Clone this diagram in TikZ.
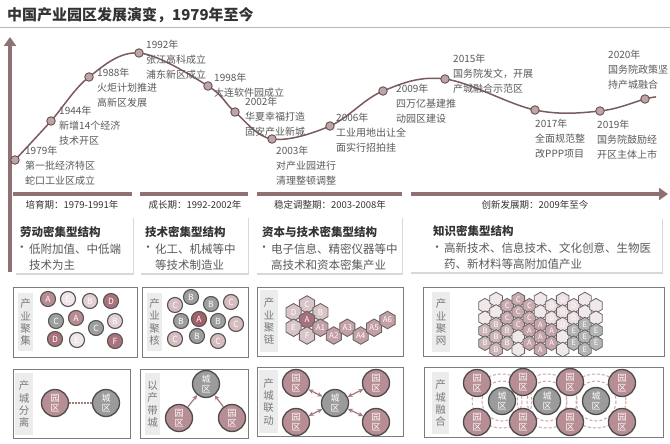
\documentclass[tikz,border=0pt]{standalone}
\usepackage{fontspec}
\setmainfont{Noto Sans CJK SC}
\usetikzlibrary{shapes.geometric,arrows.meta,shadows}
\definecolor{barc}{HTML}{8F7073}
\definecolor{curvec}{HTML}{7B5B5F}
\definecolor{dotf}{HTML}{BDA5A8}
\definecolor{dotd}{HTML}{6A5154}
\definecolor{txtc}{HTML}{5A5A5A}
\definecolor{darkc}{HTML}{333333}
\definecolor{framec}{HTML}{7C7C7C}
\definecolor{sidebg}{HTML}{ECECEC}
\definecolor{sidetx}{HTML}{7A7A7A}
\definecolor{balld}{HTML}{555555}
\definecolor{pkD}{HTML}{AA737C}
\definecolor{pkA}{HTML}{B98A91}
\definecolor{pkL}{HTML}{E3CED1}
\definecolor{pkV}{HTML}{F0E5E7}
\definecolor{grC}{HTML}{9E9E9E}
\definecolor{pkM}{HTML}{D6BBBF}
\definecolor{redA}{HTML}{A3606A}
\definecolor{hxL}{HTML}{D9C5C8}
\definecolor{hxA}{HTML}{A8707A}
\definecolor{hxM}{HTML}{C49FA5}
\definecolor{g0}{HTML}{F1E8EA}
\definecolor{gB}{HTML}{CDB6B7}
\definecolor{gC}{HTML}{C9AAAF}
\definecolor{gA}{HTML}{C5A5AA}
\definecolor{gD}{HTML}{EDDFE2}
\definecolor{gE}{HTML}{B4B4B4}
\definecolor{parkc}{HTML}{B88E95}
\definecolor{cityc}{HTML}{9B9B9B}
\definecolor{arrc}{HTML}{A6777F}
\definecolor{dashc}{HTML}{CFA3AA}
\begin{document}
\begin{tikzpicture}[x=1pt,y=-1pt,
  tl/.style={anchor=north west,inner sep=0pt,align=left,text=txtc,font=\fontsize{10}{14.7}\selectfont},
  dot/.style={circle,fill=dotf,draw=dotd,line width=0.9pt,minimum size=8.5pt,inner sep=0pt},
  bar/.style={draw=barc,line width=3.6pt},
  period/.style={inner sep=0pt,text=darkc,font=\fontsize{9.5}{11}\selectfont},
  card/.style={anchor=north west,fill=white,draw=none,inner sep=0pt,drop shadow={shadow xshift=0.8pt,shadow yshift=-2pt,opacity=0.3}},
  ctitle/.style={anchor=west,inner sep=0pt,text=darkc,font=\fontsize{11.5}{14}\selectfont\bfseries},
  cbullet/.style={anchor=center,inner sep=0pt,text=txtc,font=\fontsize{11.5}{16}\selectfont},
  ctext/.style={anchor=north west,inner sep=0pt,align=left,text=txtc,font=\fontsize{11.5}{16}\selectfont},
  frm/.style={anchor=north west,draw=framec,line width=1.1pt,fill=white,inner sep=0pt},
  sidebox/.style={anchor=north west,fill=sidebg,draw=none,inner sep=0pt},
  sidetext/.style={inner sep=0pt,align=center,text=sidetx,font=\fontsize{10.5}{12.4}\selectfont},
  ball/.style={circle,draw=balld,line width=1.1pt,minimum size=15pt,inner sep=0pt,text=white,font=\fontsize{8.5}{9}\selectfont},
  hexc/.style={regular polygon,regular polygon sides=6,shape border rotate=30,minimum size=17.5pt,inner sep=0pt,draw=balld!90,line width=0.9pt,text=white,font=\fontsize{8}{9}\selectfont},
  hexg/.style={regular polygon,regular polygon sides=6,shape border rotate=30,minimum size=14.6pt,inner sep=0pt,draw=balld!90,line width=0.8pt,text=white,font=\fontsize{7.5}{8}\selectfont},
  big/.style={circle,draw=black!70,line width=1.3pt,minimum size=27pt,inner sep=0pt,align=center,text=white,font=\fontsize{9}{10.5}\selectfont},
  park/.style={big,fill=parkc},
  city/.style={big,fill=cityc},
  arr/.style={draw=arrc,line width=1.2pt,-{Stealth[length=5pt,width=4.5pt]}},
  darr/.style={draw=arrc,line width=1.2pt,{Stealth[length=5pt,width=4.5pt]}-{Stealth[length=5pt,width=4.5pt]}},
  dashring/.style={draw=dashc,line width=1pt,dash pattern=on 3pt off 2pt},
  dotline/.style={draw=arrc,line width=1.3pt,dash pattern=on 1.5pt off 1.5pt},
]
\useasboundingbox (0,0) rectangle (670,444);
\fill[white] (0,0) rectangle (670,444);

% title
\node[anchor=west,inner sep=0pt,text=darkc,font=\fontsize{15}{18}\selectfont\bfseries] (title) at (7,15) {中国产业园区发展演变，1979年至今};
\coordinate (rl) at (0,27);
\coordinate (rr) at (670,27);
\draw[black!28,line width=0.8pt] (rl) -- (rr);

% axes
\coordinate (vb) at (10,272);
\coordinate (vt) at (10,37);
\draw[bar,-{Triangle[length=9pt,width=12pt]}] (vb) -- (vt);
\coordinate (h1a) at (13,194); \coordinate (h1b) at (132,194);
\coordinate (h2a) at (140,194); \coordinate (h2b) at (248,194);
\coordinate (h3a) at (257,194); \coordinate (h3b) at (402,194);
\coordinate (h4a) at (411,194); \coordinate (h4b) at (668,194);
\draw[bar] (h1a) -- (h1b);
\draw[bar] (h2a) -- (h2b);
\draw[bar] (h3a) -- (h3b);
\draw[bar,-{Triangle[length=9pt,width=12pt]}] (h4a) -- (h4b);

% curve
\coordinate (p1) at (15,160);
\coordinate (p2) at (51,121);
\coordinate (p3) at (89,77);
\coordinate (p4) at (139,53);
\coordinate (p5) at (208,86);
\coordinate (p6) at (235,112);
\coordinate (p7) at (272,139);
\coordinate (p8) at (330,126);
\coordinate (p9) at (383,91);
\coordinate (p10) at (445,79);
\coordinate (p11) at (535,110);
\coordinate (p12) at (600,111);
\coordinate (p13) at (645,99);
\coordinate (pe) at (656,97);
\draw[curvec,line width=1.5pt] plot[smooth,tension=0.6] coordinates {(p1) (p2) (p3) (p4) (p5) (p6) (p7) (p8) (p9) (p10) (p11) (p12) (p13) (pe)};
\foreach \i in {1,...,13} {\node[dot] (d\i) at (p\i) {};}

% timeline labels
\node[tl] (l1979) at (25,146) {1979年\\第一批经济特区\\蛇口工业区成立};
\node[tl] (l1944) at (59,106) {1944年\\新增14个经济\\技术开区};
\node[tl] (l1988) at (97,68) {1988年\\火炬计划推进\\高新区发展};
\node[tl] (l1992) at (146,40) {1992年\\张江高科成立\\浦东新区成立};
\node[tl] (l1998) at (214,73) {1998年\\大连软件园成立};
\node[tl] (l2002) at (245,97) {2002年\\华夏幸福打造\\固安产业新城};
\node[tl] (l2003) at (276,146) {2003年\\对产业园进行\\清理整顿调整};
\node[tl] (l2006) at (336,113) {2006年\\工业用地出让全\\面实行招拍挂};
\node[tl] (l2009) at (396,84) {2009年\\四万亿基建推\\动园区建设};
\node[tl] (l2015) at (453,54) {2015年\\国务院发文，开展\\产城融合示范区};
\node[tl] (l2017) at (535,119) {2017年\\全面规范整\\改PPP项目};
\node[tl] (l2019) at (597,120) {2019年\\国务院鼓励经\\开区主体上市};
\node[tl] (l2020) at (608,50) {2020年\\国务院政策坚\\持产城融合};

% periods
\node[period] (per1) at (72,205) {培育期：1979-1991年};
\node[period] (per2) at (195,205) {成长期：1992-2002年};
\node[period] (per3) at (330,205) {稳定调整期：2003-2008年};
\node[period] (per4) at (535,205) {创新发展期：2009年至今};

% cards
\node[card,minimum width=118pt,minimum height=57pt] (card1) at (15,216) {};
\node[card,minimum width=108pt,minimum height=57pt] (card2) at (140,216) {};
\node[card,minimum width=146pt,minimum height=57pt] (card3) at (256,216) {};
\node[card,minimum width=252pt,minimum height=55pt] (card4) at (410,217) {};
\node[ctitle] (ct1) at (20,232) {劳动密集型结构};
\node[cbullet] (cb1) at (22,249) {•};
\node[ctext] (cx1) at (29,243.3) {低附加值、中低端\\技术为主};
\node[ctitle] (ct2) at (145,232) {技术密集型结构};
\node[cbullet] (cb2) at (148,249) {•};
\node[ctext] (cx2) at (155,243.3) {化工、机械等中\\等技术制造业};
\node[ctitle] (ct3) at (262,232) {资本与技术密集型结构};
\node[cbullet] (cb3) at (264,249) {•};
\node[ctext] (cx3) at (271,243.3) {电子信息、精密仪器等中\\高技术和资本密集产业};
\node[ctitle] (ct4) at (433,231.5) {知识密集型结构};
\node[cbullet] (cb4) at (437,248.5) {•};
\node[ctext] (cx4) at (444,242.8) {高新技术、信息技术、文化创意、生物医\\药、新材料等高附加值产业};

% ---------- row 1 panels ----------
\node[frm,minimum width=124pt,minimum height=70pt] (f11) at (13,287) {};
\node[frm,minimum width=106pt,minimum height=70pt] (f12) at (142,287) {};
\node[frm,minimum width=146pt,minimum height=69pt] (f13) at (257,287) {};
\node[frm,minimum width=241pt,minimum height=69pt] (f14) at (423,287) {};
\node[sidebox,minimum width=15pt,minimum height=58pt] (s11) at (18,293) {};
\node[sidebox,minimum width=15pt,minimum height=58pt] (s12) at (147,293) {};
\node[sidebox,minimum width=18pt,minimum height=62pt] (s13) at (260,290) {};
\node[sidebox,minimum width=18pt,minimum height=60pt] (s14) at (432,292) {};
\node[sidetext] (t11) at (s11.center) {产\\业\\聚\\集};
\node[sidetext] (t12) at (s12.center) {产\\业\\聚\\核};
\node[sidetext] (t13) at (s13.center) {产\\业\\聚\\链};
\node[sidetext] (t14) at (s14.center) {产\\业\\聚\\网};

% panel 1 balls
\node[ball,fill=pkA] (b1) at (48,299) {A};
\node[ball,fill=pkV] (b2) at (68,299) {E};
\node[ball,fill=pkL] (b3) at (90,301) {B};
\node[ball,fill=pkD] (b4) at (111,301) {D};
\node[ball,fill=grC] (b5) at (56,321) {C};
\node[ball,fill=pkA] (b6) at (76,318) {A};
\node[ball,fill=grC] (b7) at (96,328) {C};
\node[ball,fill=pkL] (b8) at (115,321) {B};
\node[ball,fill=pkD] (b9) at (55,339) {D};
\node[ball,fill=pkV] (b10) at (77,340) {E};
\node[ball,fill=pkD] (b11) at (115,341) {F};

% panel 2 balls
\node[ball,fill=pkM] (k1) at (175,305) {C};
\node[ball,fill=grC] (k2) at (191,297) {B};
\node[ball,fill=grC] (k3) at (211,304) {B};
\node[ball,fill=pkM] (k4) at (231,302) {C};
\node[ball,fill=grC] (k5) at (181,321) {B};
\node[ball,fill=redA] (k6) at (199,319) {A};
\node[ball,fill=grC] (k7) at (218,321) {B};
\node[ball,fill=pkM] (k8) at (236,324) {C};
\node[ball,fill=pkM] (k9) at (175,339) {C};
\node[ball,fill=grC] (k10) at (197,336) {B};
\node[ball,fill=pkM] (k11) at (218,341) {C};

% panel 3 hex chain
\node[hexc,fill=hxL] (hC) at (307,304.5) {C};
\node[hexc,fill=hxL] (hD) at (293.6,312.25) {D};
\node[hexc,fill=hxL] (hB) at (320.4,312.25) {B};
\node[hexc,fill=hxA] (hA) at (307,320) {A};
\node[hexc,fill=hxL] (hE) at (293.6,327.75) {E};
\node[hexc,fill=hxL] (hF) at (307,335.5) {F};
\node[hexc,fill=hxM] (hA1) at (320.4,327.75) {A1};
\node[hexc,fill=hxM] (hA2) at (333.8,335.5) {A2};
\node[hexc,fill=hxM] (hA3) at (347.3,327.75) {A3};
\node[hexc,fill=hxM] (hA4) at (360.7,335.5) {A4};
\node[hexc,fill=hxM] (hA5) at (374.1,327.75) {A5};
\node[hexc,fill=hxM] (hA6) at (387.5,320) {A6};

% panel 4 hex grid
\foreach \x/\ys/\labs [count=\cc] in {485/305.7/{0,0,B,B}, 496.1/299.5/{0,0,B,B,B}, 507.2/305.7/{C,C,B,B}, 518.3/299.5/{C,C,C,0,0}, 529.4/305.7/{C,C,A,A}, 540.5/299.5/{0,0,A,A,A}, 551.6/305.7/{D,D,A,A}, 562.7/299.5/{D,D,D,0,0}, 573.8/305.7/{D,D,E,E}, 584.9/299.5/{0,0,E,E,E}, 596/305.7/{0,0,E,E}} {
  \foreach \l [count=\k from 0] in \labs {
    \node[hexg,fill=g\l] (g\cc-\k) at ({\x},{\ys+12.5*\k}) {\if0\l\else\l\fi};
  }
}

% ---------- row 2 panels ----------
\node[frm,minimum width=117pt,minimum height=69pt] (f21) at (13,369) {};
\node[frm,minimum width=108pt,minimum height=69pt] (f22) at (140,369) {};
\node[frm,minimum width=146pt,minimum height=69pt] (f23) at (257,367) {};
\node[frm,minimum width=239pt,minimum height=70pt] (f24) at (424,367) {};
\node[sidebox,minimum width=18pt,minimum height=62pt] (s21) at (15,373) {};
\node[sidebox,minimum width=15pt,minimum height=62pt] (s22) at (145,373) {};
\node[sidebox,minimum width=19pt,minimum height=63pt] (s23) at (259,370) {};
\node[sidebox,minimum width=17pt,minimum height=62pt] (s24) at (432,372) {};
\node[sidetext] (t21) at (s21.center) {产\\城\\分\\离};
\node[sidetext] (t22) at (s22.center) {以\\产\\带\\城};
\node[sidetext] (t23) at (s23.center) {产\\城\\联\\动};
\node[sidetext] (t24) at (s24.center) {产\\城\\融\\合};

% panel 1
\node[park] (y1) at (55,403) {园\\区};
\node[city] (c1) at (106,403) {城\\区};
\draw[dotline] (y1) -- (c1);

% panel 2
\node[city] (c2) at (206,384) {城\\区};
\node[park] (y2a) at (179,418) {园\\区};
\node[park] (y2b) at (232,418) {园\\区};
\draw[arr] (y2a) -- (c2);
\draw[arr] (y2b) -- (c2);

% panel 3
\node[city] (c3) at (335,403) {城\\区};
\node[park] (y3a) at (296,383) {园\\区};
\node[park] (y3b) at (376,383) {园\\区};
\node[park] (y3c) at (296,422) {园\\区};
\node[park] (y3d) at (376,422) {园\\区};
\draw[darr] (c3) -- (y3a);
\draw[darr] (c3) -- (y3b);
\draw[darr] (c3) -- (y3c);
\draw[darr] (c3) -- (y3d);

% panel 4
\coordinate (q1) at (502,401);
\coordinate (q2) at (547,401);
\coordinate (q3) at (596,401);
\foreach \q in {q1,q2,q3} {
  \draw[dashring] (\q) circle[radius=20];
  \draw[dashring] (\q) ellipse[x radius=30,y radius=27];
}
\node[park] (y4a) at (477,383) {园\\区};
\node[park] (y4b) at (523,382) {园\\区};
\node[park] (y4c) at (570,382) {园\\区};
\node[park] (y4d) at (622,383) {园\\区};
\node[park] (y4e) at (477,422) {园\\区};
\node[park] (y4f) at (523,422) {园\\区};
\node[park] (y4g) at (570,422) {园\\区};
\node[park] (y4h) at (622,422) {园\\区};
\node[city] (c4a) at (q1) {城\\区};
\node[city] (c4b) at (q2) {城\\区};
\node[city] (c4c) at (q3) {城\\区};
\end{tikzpicture}
\end{document}
